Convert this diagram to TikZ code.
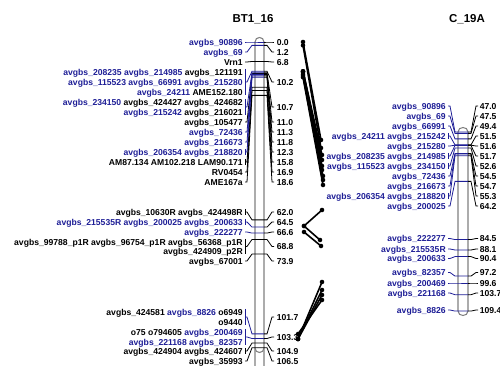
\documentclass[tikz,border=0pt]{standalone}
\usepackage{fontspec}
\setmainfont{Liberation Sans}
\definecolor{mblue}{RGB}{30,30,150}
\definecolor{bargray}{RGB}{128,128,128}
\newcommand\bl[1]{\textcolor{mblue}{#1}}
\begin{document}
\begin{tikzpicture}[x=0.75pt,y=-0.75pt,
  every node/.style={inner sep=0pt, text height=4.6pt, text depth=0pt,
    font=\bfseries\fontsize{6.45}{7}\selectfont},
  lab/.style={anchor=east},
  posl/.style={anchor=west},
  ttl/.style={font=\bfseries\fontsize{8.6}{10}\selectfont, text height=6.2pt},
  lead/.style={line width=0.6pt},
  barsty/.style={draw=bargray, fill=white, line width=0.8pt},
  link/.style={line width=1.2pt, line cap=round}]
\useasboundingbox (0,0) rectangle (500,366);

% titles
\node[ttl] (t1) at (253,18) {BT1\_16};
\node[ttl] (t2) at (467,18) {C\_19A};

% chromosome bars
\path[barsty] (255,366) -- (255,42) .. controls (255,36) and (264,36) .. (264,42) -- (264,366);
\draw[bargray, line width=0.8pt] (255,348) .. controls (255,354) and (264,354) .. (264,348);
\path[barsty] (458,132) .. controls (458,126) and (468,126) .. (468,132) -- (468,311)
  .. controls (468,317) and (458,317) .. (458,311) -- cycle;

% ---------- BT1_16 leaders ----------
\foreach \m/\l in {62/61.5, 122/73.6, 162/87.3, 172/90.5, 182/95.4, 212/219.9, 246.5/239.5, 261/254.1, 351/343.1, 361/347.7}
  \draw[lead] (245,\m) -- (247,\m) -- (252,\l) -- (264,\l);
\foreach \m/\l in {42/42, 52/45.4, 82/71.3, 107/72.7, 132/74.4, 142/75.9, 152/77.3, 222/227.1, 232/233.1, 317/333.9, 337/338.5}
  \draw[lead,mblue] (245,\m) -- (247,\m) -- (252,\l) -- (264,\l);
\foreach \a/\b in {159/165, 209/215, 239/254, 348/354}
  \draw[lead] (245,\a) -- (245,\b);
\foreach \a/\b in {69/95, 99/115, 149/155, 219/225, 309/325, 329/345}
  \draw[lead,mblue] (245,\a) -- (245,\b);
\foreach \l/\m in {42/42, 45.4/52, 61.5/62, 71.3/82, 72.7/107, 73.6/122, 74.4/132, 75.9/142, 77.3/152, 87.3/162, 90.5/172, 95.4/182, 219.9/212, 227.1/222, 233.1/232, 239.5/246.5, 254.1/261, 333.9/317, 338.5/337, 343.1/351, 347.7/361}
  \draw[lead] (264,\l) -- (267,\l) -- (272,\m) -- (274,\m);

% ---------- BT1_16 marker labels ----------
\node[lab] (a1) at (243,42) {\bl{avgbs\_90896}};
\node[lab] (a2) at (243,52) {\bl{avgbs\_69}};
\node[lab] (a3) at (243,62) {Vrn1};
\node[lab] (a4) at (243,72) {\bl{avgbs\_208235} \bl{avgbs\_214985} avgbs\_121191};
\node[lab] (a5) at (243,82) {\bl{avgbs\_115523} \bl{avgbs\_66991} \bl{avgbs\_215280}};
\node[lab] (a6) at (243,92) {\bl{avgbs\_24211} AME152.180};
\node[lab] (a7) at (243,102) {\bl{avgbs\_234150} avgbs\_424427 avgbs\_424682};
\node[lab] (a8) at (243,112) {\bl{avgbs\_215242} avgbs\_216021};
\node[lab] (a9) at (243,122) {avgbs\_105477};
\node[lab] (a10) at (243,132) {\bl{avgbs\_72436}};
\node[lab] (a11) at (243,142) {\bl{avgbs\_216673}};
\node[lab] (a12) at (243,152) {\bl{avgbs\_206354} \bl{avgbs\_218820}};
\node[lab] (a13) at (243,162) {AM87.134 AM102.218 LAM90.171};
\node[lab] (a14) at (243,172) {RV0454};
\node[lab] (a15) at (243,182) {AME167a};
\node[lab] (a16) at (243,212) {avgbs\_10630R avgbs\_424498R};
\node[lab] (a17) at (243,222) {\bl{avgbs\_215535R} \bl{avgbs\_200025} \bl{avgbs\_200633}};
\node[lab] (a18) at (243,232) {\bl{avgbs\_222277}};
\node[lab] (a19) at (243,242) {avgbs\_99788\_p1R avgbs\_96754\_p1R avgbs\_56368\_p1R};
\node[lab] (a20) at (243,251) {avgbs\_424909\_p2R};
\node[lab] (a21) at (243,261) {avgbs\_67001};
\node[lab] (a22) at (243,312) {avgbs\_424581 \bl{avgbs\_8826} o6949};
\node[lab] (a23) at (243,322) {o9440};
\node[lab] (a24) at (243,332) {o75 o794605 \bl{avgbs\_200469}};
\node[lab] (a25) at (243,342) {\bl{avgbs\_221168} \bl{avgbs\_82357}};
\node[lab] (a26) at (243,351) {avgbs\_424904 avgbs\_424607};
\node[lab] (a27) at (243,361) {avgbs\_35993};

% ---------- BT1_16 positions ----------
\foreach \m/\t [count=\i] in {42/0.0, 52/1.2, 62/6.8, 82/10.2, 107/10.7, 122/11.0, 132/11.3, 142/11.8, 152/12.3, 162/15.8, 172/16.9, 182/18.6, 212/62.0, 222/64.5, 232/66.6, 246.5/68.8, 261/73.9, 317/101.7, 337/103.3, 351/104.9, 361/106.5}
  \node[posl] (p\i) at (276.5,\m) {\t};

% ---------- C_19A leaders ----------
\foreach \m/\l in {106/132, 116/133.4, 126/138.9, 136/144.9, 146/145.2, 156/145.5, 166/148.1, 176/153.5, 186/154.1, 196/155.8, 206/181.4, 238.5/239.6, 249/250, 258.5/256.6, 272.5/276.1, 283/283, 293/294.7, 310/311.1}
  {\draw[lead,mblue] (448,\m) -- (450,\m) -- (455,\l) -- (468,\l);
   \draw[lead] (468,\l) -- (471,\l) -- (476,\m) -- (478,\m);}
\foreach \a/\b in {133/139, 153/159, 163/169, 193/199}
  \draw[lead,mblue] (448,\a) -- (448,\b);

% ---------- C_19A labels ----------
\foreach \m/\t [count=\i] in {106/avgbs\_90896, 116/avgbs\_69, 126/avgbs\_66991, 136/avgbs\_24211 avgbs\_215242, 146/avgbs\_215280, 156/avgbs\_208235 avgbs\_214985, 166/avgbs\_115523 avgbs\_234150, 176/avgbs\_72436, 186/avgbs\_216673, 196/avgbs\_206354 avgbs\_218820, 206/avgbs\_200025, 238.5/avgbs\_222277, 249/avgbs\_215535R, 258.5/avgbs\_200633, 272.5/avgbs\_82357, 283/avgbs\_200469, 293/avgbs\_221168, 310/avgbs\_8826}
  \node[lab,text=mblue] (c\i) at (446,\m) {\t};
\foreach \m/\t [count=\i] in {106/47.0, 116/47.5, 126/49.4, 136/51.5, 146/51.6, 156/51.7, 166/52.6, 176/54.5, 186/54.7, 196/55.3, 206/64.2, 238.5/84.5, 249/88.1, 258.5/90.4, 272.5/97.2, 283/99.6, 293/103.7, 310/109.4}
  \node[posl] (q\i) at (479.5,\m) {\t};

% ---------- links ----------
\foreach \xa/\ya/\xb/\yb in {303/42/321/140, 303/45.4/321/148, 303/71.3/322/155, 303/71.3/322/160, 303/71.3/322/166, 303/72.7/322/170, 303/74.4/323/176, 303/75.9/323/180, 303/77.3/323/185,
  304/226/322/210, 304/226/320/240, 304/232/321/246,
  298/334/322/300, 298/339/322/282, 298/339/322/290, 298/339/322/295}
  {\draw[link] (\xa,\ya) -- (\xb,\yb);
   \fill (\xa,\ya) circle[radius=1.7pt];
   \fill (\xb,\yb) circle[radius=1.7pt];}
\end{tikzpicture}
\end{document}
